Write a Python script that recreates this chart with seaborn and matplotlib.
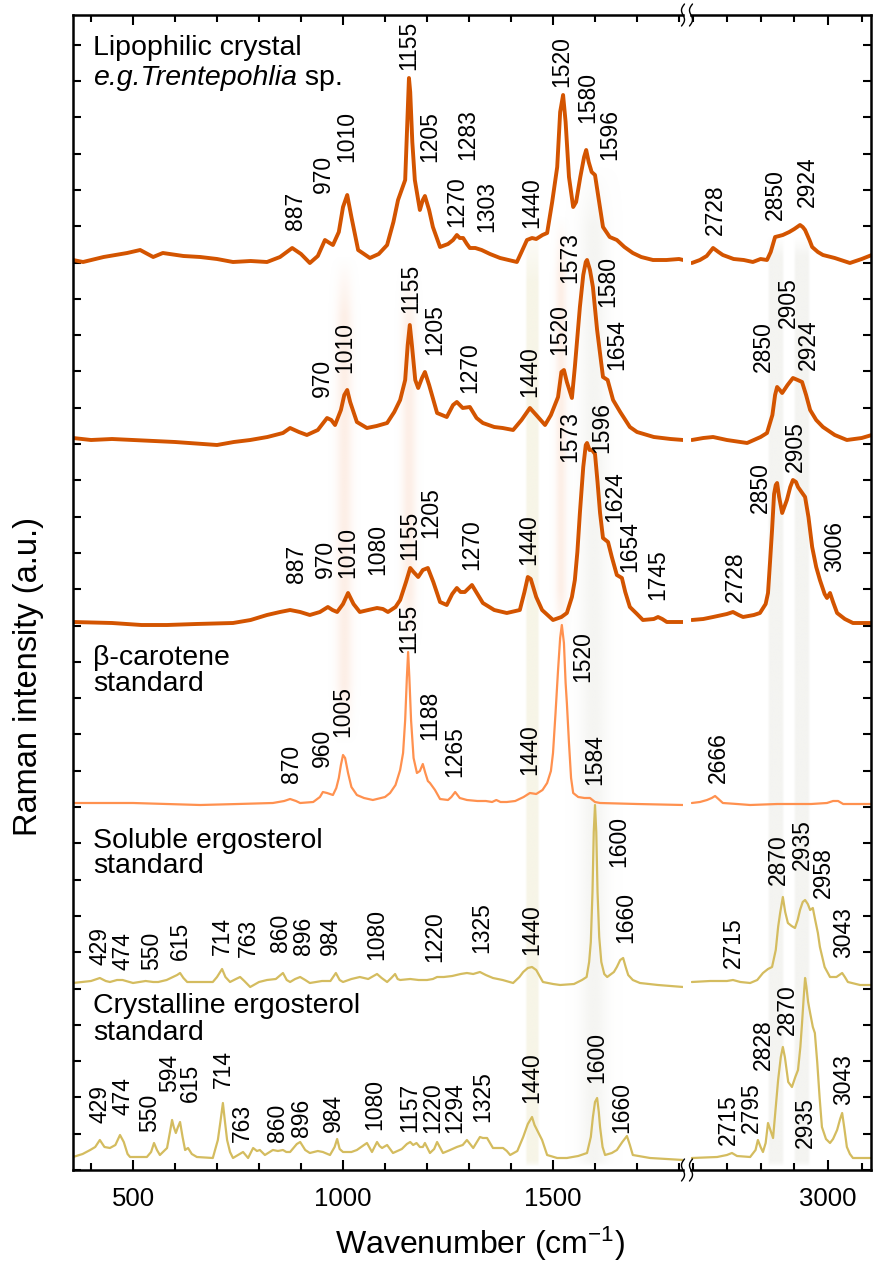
import numpy as np
import pandas as pd
import matplotlib
matplotlib.use("Agg")
import matplotlib.pyplot as plt
import matplotlib.colors as mcolors
from matplotlib.lines import Line2D
from matplotlib.ticker import FixedLocator, MultipleLocator
import seaborn as sns

# ---------------------------------------------------------------- data
# Each spectrum: (wavenumber cm-1, intensity above its own baseline, a.u.)
LIPO = [(357,2),(381,0),(430,5),(486,9),(517,12),(548,5),(571,9),(620,6),(660,5),(700,3),(738,0),
        (780,1),(819,0),(850,5),(879,14),(900,8),(921,-1),(940,6),(957,22),(968,19),(976,17),(990,30),
        (1000,55),(1010,67),(1020,45),(1036,12),(1064,4),(1085,8),(1105,17),(1120,40),(1131,62),(1148,82),
        (1154,150),(1157,184),(1160,170),(1165,120),(1171,82),(1183,52),(1190,62),(1195,66),(1205,52),
        (1214,35),(1231,15),(1250,18),(1262,22),(1271,27),(1278,24),(1286,24),(1295,18),(1302,14),(1315,14),
        (1330,12),(1350,8),(1374,4),(1414,0),(1425,10),(1438,22),(1450,24),(1460,23),(1475,27),(1486,29),
        (1498,60),(1510,95),(1517,150),(1524,167),(1530,140),(1538,85),(1548,55),(1555,60),(1565,85),
        (1574,105),(1579,112),(1585,100),(1592,90),(1600,87),(1608,65),(1619,35),(1635,25),(1652,22),
        (1670,15),(1690,9),(1710,5),(1738,2),(1770,2),(1800,3),(1810,2),
        (2596,-1),(2620,2),(2640,6),(2659,14),(2675,10),(2688,7),(2720,3),(2750,2),(2777,0),(2800,3),
        (2819,2),(2830,10),(2843,25),(2855,26),(2866,27),(2885,30),(2900,33),(2917,37),(2925,35),(2932,32),
        (2945,22),(2953,15),(2970,10),(2985,7),(3020,4),(3065,-1),(3100,3),(3130,7)]

CELL2 = [(357,2),(400,0),(450,1),(500,0),(600,-2),(700,-5),(740,-2),(779,0),(820,3),(857,7),(874,12),
         (895,8),(914,5),(940,10),(962,22),(972,20),(981,15),(995,30),(1003,45),(1010,50),(1017,38),
         (1033,18),(1057,12),(1080,14),(1105,17),(1122,28),(1136,40),(1148,60),(1154,95),(1159,115),
         (1164,95),(1172,60),(1179,52),(1188,62),(1195,68),(1205,55),(1224,27),(1247,23),(1262,35),
         (1271,38),(1285,32),(1302,33),(1318,22),(1333,17),(1360,13),(1380,12),(1405,10),(1425,20),
         (1445,32),(1460,25),(1481,15),(1495,25),(1512,43),(1520,68),(1526,70),(1533,58),(1545,42),
         (1552,73),(1564,133),(1572,165),(1578,178),(1581,180),(1588,170),(1595,153),(1605,110),
         (1619,63),(1630,60),(1643,40),(1660,28),(1683,13),(1700,8),(1740,3),(1780,1),(1810,0),
         (2596,0),(2630,2),(2659,3),(2700,0),(2760,-3),(2800,3),(2819,7),(2835,25),(2843,45),(2849,53),
         (2857,50),(2864,47),(2880,55),(2896,62),(2910,60),(2923,58),(2935,45),(2947,30),(2965,20),
         (2985,13),(3020,5),(3056,0),(3100,2),(3130,5)]

CELL3 = [(357,0),(450,-1),(520,-3),(581,-3),(650,-2),(738,-1),(780,2),(819,7),(850,10),(874,12),(898,10),
         (921,7),(945,10),(964,15),(975,12),(986,10),(1000,18),(1012,29),(1025,18),(1040,10),(1060,12),
         (1081,14),(1095,13),(1107,10),(1125,15),(1136,22),(1150,40),(1160,54),(1168,50),(1179,45),
         (1190,52),(1202,54),(1215,40),(1231,20),(1247,17),(1260,28),(1271,34),(1280,30),(1290,30),
         (1307,37),(1320,28),(1333,19),(1360,12),(1390,9),(1421,12),(1432,30),(1440,45),(1447,43),
         (1460,25),(1474,12),(1500,2),(1520,5),(1533,9),(1545,25),(1552,42),(1558,70),(1564,109),
         (1572,155),(1578,177),(1581,179),(1587,172),(1593,172),(1600,168),(1606,140),(1612,109),
         (1619,84),(1625,82),(1631,80),(1640,65),(1652,47),(1664,44),(1672,30),(1683,15),(1700,8),
         (1714,2),(1740,3),(1750,5),(1760,3),(1771,0),(1810,0),
         (2596,2),(2630,3),(2659,5),(2700,8),(2718,10),(2735,7),(2748,5),(2780,7),(2798,9),(2815,18),
         (2822,29),(2828,60),(2834,92),(2840,128),(2845,137),(2849,139),(2855,125),(2864,109),(2878,122),
         (2888,135),(2896,142),(2905,140),(2911,135),(2932,125),(2942,105),(2953,75),(2965,55),(2976,42),
         (2990,28),(2997,24),(3006,29),(3015,20),(3027,9),(3050,3),(3074,-1),(3133,-1)]

BCAROT = [(357,0),(500,0),(580,-1),(660,-2),(750,-1),(833,0),(860,2),(874,4),(888,2),(898,0),(929,1),
          (945,6),(952,11),(962,10),(976,8),(984,15),(990,25),(995,38),(1000,48),(1005,45),(1012,30),
          (1020,16),(1033,8),(1050,5),(1071,3),(1100,6),(1112,10),(1125,18),(1136,33),(1143,50),(1148,83),
          (1152,125),(1155,151),(1158,125),(1162,83),(1168,45),(1176,30),(1183,32),(1190,39),(1196,30),
          (1202,22),(1207,20),(1219,13),(1231,4),(1250,3),(1258,6),(1267,11),(1278,5),(1295,3),(1320,2),
          (1340,2),(1355,1),(1365,3),(1375,1),(1390,1),(1410,2),(1430,6),(1445,10),(1460,9),(1475,13),
          (1486,20),(1495,32),(1500,50),(1506,90),(1512,133),(1517,165),(1521,178),(1526,160),(1530,120),
          (1533,100),(1538,60),(1543,25),(1548,10),(1560,6),(1575,5),(1588,5),(1600,1),(1612,0),(1700,-1),
          (1810,-2),
          (2596,0),(2620,1),(2641,3),(2655,5),(2665,7),(2675,4),(2688,0),(2730,-1),(2769,-2),(2850,-1),
          (2950,-1),(2997,0),(3015,2),(3030,2),(3045,-1),(3065,-1),(3130,-1)]

ERGO_SOL = [(357,-1),(400,1),(421,4),(435,1),(445,0),(462,2),(475,2),(500,-1),(530,1),(548,0),(560,0),
            (580,2),(595,5),(605,7),(612,9),(620,4),(629,0),(660,0),(690,0),(700,5),(712,13),(720,5),
            (731,0),(745,3),(755,5),(765,1),(779,-5),(800,0),(819,2),(840,3),(857,9),(866,2),(874,0),
            (886,3),(898,5),(910,2),(921,-1),(950,1),(970,1),(983,9),(992,2),(1000,0),(1020,3),(1040,5),
            (1060,3),(1081,8),(1092,4),(1105,0),(1115,4),(1124,8),(1130,3),(1136,2),(1160,3),(1180,2),
            (1200,2),(1214,3),(1224,5),(1240,5),(1260,6),(1280,8),(1295,9),(1310,8),(1326,10),(1340,7),
            (1357,4),(1380,2),(1405,-1),(1420,5),(1429,10),(1440,14),(1450,15),(1460,12),(1476,0),
            (1500,-2),(1517,-3),(1550,-2),(1569,2),(1580,5),(1586,20),(1590,40),(1594,90),(1597,150),
            (1600,177),(1603,150),(1606,90),(1610,45),(1615,20),(1622,8),(1629,5),(1645,10),(1652,15),
            (1660,22),(1667,24),(1673,15),(1679,7),(1690,2),(1707,-1),(1750,-3),(1810,-5),
            (2596,0),(2650,1),(2700,1),(2718,2),(2740,0),(2769,-1),(2790,2),(2807,9),(2822,13),(2834,15),
            (2845,32),(2852,55),(2858,69),(2866,85),(2873,70),(2881,59),(2892,56),(2902,54),(2910,62),
            (2917,72),(2925,80),(2932,82),(2940,78),(2947,72),(2955,74),(2962,62),(2970,49),(2976,35),
            (2990,15),(3006,5),(3025,5),(3042,9),(3050,5),(3059,0),(3095,-3),(3130,-3)]

ERGO_CRY = [(357,0),(380,3),(398,7),(410,10),(421,17),(432,10),(445,9),(458,12),(469,22),(478,15),(487,3),
            (493,0),(533,0),(543,5),(550,14),(557,7),(564,2),(581,9),(588,25),(593,37),(597,30),(602,24),
            (607,30),(612,35),(618,20),(624,7),(631,9),(640,3),(652,0),(690,-1),(702,17),(708,35),(714,54),
            (719,35),(724,17),(731,5),(738,-1),(750,2),(762,5),(774,-1),(786,9),(795,6),(802,7),(814,2),
            (833,7),(845,6),(857,7),(865,5),(874,5),(890,13),(898,15),(910,7),(921,4),(940,6),(952,5),
            (969,2),(980,10),(986,18),(992,8),(1000,5),(1020,5),(1033,7),(1050,12),(1057,14),(1069,5),
            (1081,15),(1087,11),(1093,9),(1105,12),(1119,4),(1140,8),(1152,13),(1160,15),(1167,12),
            (1175,14),(1183,10),(1190,10),(1195,14),(1207,4),(1217,8),(1224,15),(1238,4),(1255,7),
            (1271,10),(1285,12),(1295,17),(1310,9),(1326,20),(1333,19),(1343,19),(1357,9),(1381,9),
            (1390,6),(1398,2),(1415,6),(1429,20),(1440,33),(1450,40),(1456,32),(1462,27),(1474,17),
            (1486,2),(1510,-1),(1533,-1),(1560,1),(1581,4),(1590,20),(1595,40),(1600,55),(1605,59),
            (1609,45),(1612,30),(1618,10),(1624,2),(1640,4),(1652,7),(1665,15),(1676,21),(1683,12),
            (1690,2),(1731,-1),(1810,-3),
            (2596,-1),(2671,0),(2700,2),(2715,4),(2730,1),(2769,0),(2785,7),(2792,17),(2800,10),(2807,5),
            (2815,14),(2822,34),(2830,26),(2837,19),(2845,50),(2852,77),(2860,100),(2866,110),(2872,100),
            (2882,75),(2893,70),(2903,80),(2911,87),(2918,110),(2923,134),(2928,160),(2932,179),(2936,170),
            (2941,155),(2947,144),(2955,130),(2961,124),(2968,95),(2975,60),(2982,30),(2994,18),(3006,14),
            (3015,18),(3027,27),(3036,38),(3042,44),(3048,30),(3056,10),(3065,3),(3074,-1),(3133,-1)]

# peak labels: (text, wavenumber of label, height of label start above baseline)
LIPO_LABELS = [("887",886,32),("970",953,69),("1010",1010,100),("1155",1157,192),("1205",1207,100),
               ("1270",1271,35),("1283",1298,102),("1303",1343,30),("1440",1450,34),("1520",1521,175),
               ("1580",1583,139),("1596",1636,102),("2728",2665,27),("2850",2843,42),("2924",2938,55)]
CELL2_LABELS = [("970",950,43),("1010",1005,67),("1155",1162,127),("1205",1219,85),("1270",1302,47),
                ("1440",1445,43),("1520",1517,85),("1573",1540,157),("1580",1631,133),("1654",1652,70),
                ("2850",2807,68),("2905",2881,112),("2924",2941,70)]
CELL3_LABELS = [("887",890,39),("970",957,44),("1010",1012,44),("1080",1083,47),("1155",1160,62),
                ("1205",1210,84),("1270",1307,52),("1440",1443,57),("1573",1540,160),("1596",1617,169),
                ("1624",1648,100),("1654",1683,50),("1745",1750,22),("2728",2724,20),("2850",2798,109),
                ("2905",2902,150),("3006",3021,50)]
BCAROT_LABELS = [("870",878,20),("960",950,36),("1005",1000,66),("1155",1157,150),("1188",1207,63),
                 ("1265",1267,26),("1440",1445,28),("1520",1571,121),("1584",1600,18),("2666",2674,20)]
ERGO_SOL_LABELS = [("429",421,17),("474",476,12),("550",545,12),("615",612,22),("714",712,27),
                   ("763",774,25),("860",851,30),("896",905,27),("984",969,27),("1080",1081,22),
                   ("1220",1219,20),("1325",1331,29),("1440",1450,27),("1600",1657,115),("1660",1674,39),
                   ("2715",2718,14),("2870",2852,97),("2935",2923,112),("2958",2985,84),("3043",3045,24)]
ERGO_CRY_LABELS = [("429",421,34),("474",476,42),("550",540,25),("594",588,65),("615",636,55),
                   ("714",714,69),("763",760,15),("860",845,15),("896",902,20),("984",976,25),
                   ("1080",1076,27),("1157",1160,25),("1220",1214,24),("1294",1267,24),("1325",1333,35),
                   ("1440",1450,54),("1600",1605,74),("1660",1664,24),("2715",2703,12),("2795",2774,24),
                   ("2828",2807,87),("2870",2878,122),("2935",2932,9),("3043",3045,52)]

X_TICKS_LOW = [500, 1000, 1500]
X_TICKS_HIGH = [3000]

# ---------------------------------------------------------------- style
sns.set_theme(style="ticks")
plt.rcParams['font.family'] = ['Liberation Sans', 'DejaVu Sans']
plt.rcParams['mathtext.fontset'] = 'custom'
plt.rcParams['mathtext.rm'] = 'Liberation Sans'
plt.rcParams['mathtext.it'] = 'Liberation Sans:italic'
plt.rcParams['mathtext.default'] = 'regular'
plt.rcParams['text.color'] = 'black'
plt.rcParams['axes.labelcolor'] = 'black'
plt.rcParams['xtick.color'] = 'black'
plt.rcParams['ytick.color'] = 'black'

DARK = '#D35400'
LIGHT = '#FF914F'
KHAKI = '#D4BC5F'

spectra = [
    ("lipo", LIPO, LIPO_LABELS, 908, DARK, 2.8),
    ("cell2", CELL2, CELL2_LABELS, 730, DARK, 2.8),
    ("cell3", CELL3, CELL3_LABELS, 548, DARK, 2.8),
    ("bcarot", BCAROT, BCAROT_LABELS, 367, LIGHT, 1.6),
    ("ergo_sol", ERGO_SOL, ERGO_SOL_LABELS, 188, KHAKI, 1.6),
    ("ergo_cry", ERGO_CRY, ERGO_CRY_LABELS, 13, KHAKI, 1.6),
]

W, H = 873, 1264
fig = plt.figure(figsize=(W / 100, H / 100), dpi=100)
fig.patch.set_facecolor('white')
YTOP = 1155
ax1 = fig.add_axes([73 / W, 94 / H, 610 / W, YTOP / H])
ax2 = fig.add_axes([691 / W, 94 / H, 180 / W, YTOP / H])
XL1 = (357.1, 1809.5)
XL2 = (2593.5, 3127.6)


def add_band(ax, c, w, py_top, py_bot, color, amax, shape, fade_top=60, fade_bot=60):
    xs = np.linspace(c - 2 * w, c + 2 * w, 200)
    y0, y1 = 1170 - py_bot, 1170 - py_top
    ys = np.linspace(y0, y1, 300)
    if shape == 'gauss':
        pxp = np.exp(-0.5 * ((xs - c) / (0.6 * w)) ** 2)
    else:
        pxp = np.clip((w - np.abs(xs - c)) / (0.3 * w), 0, 1)
    pv = np.clip((ys - y0) / fade_bot, 0, 1) * np.clip((y1 - ys) / fade_top, 0, 1)
    img = np.zeros((len(ys), len(xs), 4))
    img[..., :3] = mcolors.to_rgb(color)
    img[..., 3] = amax * pv[:, None] * pxp[None, :]
    ax.imshow(img, extent=[xs[0], xs[-1], y0, y1], origin='lower', aspect='auto',
              zorder=0, interpolation='bilinear')


PINK = '#F9CDB4'
YEL = '#EFEBD0'
GRAY = '#E9E9E3'
add_band(ax1, 1003, 22, 255, 745, PINK, 0.32, 'gauss')
add_band(ax1, 1156, 20, 265, 655, PINK, 0.32, 'gauss')
add_band(ax1, 1451, 17, 220, 1168, YEL, 0.5, 'flat', fade_bot=5)
add_band(ax1, 1519, 15, 215, 650, PINK, 0.32, 'gauss')
add_band(ax1, 1597, 38, 165, 1168, GRAY, 0.45, 'gauss', fade_bot=5)
add_band(ax2, 2844, 25, 235, 1168, GRAY, 0.5, 'flat', fade_top=20, fade_bot=5)
add_band(ax2, 2921, 25, 235, 1168, GRAY, 0.5, 'flat', fade_top=20, fade_bot=5)

for name, data, labels, off, col, lw in spectra:
    df = pd.DataFrame(data, columns=['wn', 'inten'])
    df['y'] = df['inten'] + off
    low = df[df['wn'] < 2000]
    high = df[df['wn'] > 2000]
    sns.lineplot(data=low, x='wn', y='y', ax=ax1, color=col, linewidth=lw,
                 estimator=None, sort=False, legend=False, zorder=2)
    sns.lineplot(data=high, x='wn', y='y', ax=ax2, color=col, linewidth=lw,
                 estimator=None, sort=False, legend=False, zorder=2)
    for txt, wn, h in labels:
        ax = ax1 if wn < 2000 else ax2
        ax.text(wn, off + h, txt, rotation=90, ha='center', va='bottom',
                fontsize=16.5, color='black', zorder=3)

# sample names
TX = 405
ax1.text(TX, 1170 - 55, "Lipophilic crystal", fontsize=20.5, va='baseline', ha='left')
t_it = ax1.text(TX, 1170 - 85, "e.g.Trentepohlia", fontsize=20.5, va='baseline', ha='left',
                style='italic')
ax1.annotate(" sp.", xy=(1, 0), xycoords=t_it, va='bottom', ha='left', fontsize=20.5)
ax1.text(TX, 1170 - 665, "β-carotene", fontsize=20.5, va='baseline', ha='left')
ax1.text(TX, 1170 - 691, "standard", fontsize=20.5, va='baseline', ha='left')
ax1.text(TX, 1170 - 848, "Soluble ergosterol", fontsize=20.5, va='baseline', ha='left')
ax1.text(TX, 1170 - 873, "standard", fontsize=20.5, va='baseline', ha='left')
ax1.text(TX, 1170 - 1013, "Crystalline ergosterol", fontsize=20.5, va='baseline', ha='left')
ax1.text(TX, 1170 - 1040, "standard", fontsize=20.5, va='baseline', ha='left')

# axes cosmetics
yt = np.arange(0, YTOP, 36.3)
for ax, xl, maj in [(ax1, XL1, X_TICKS_LOW), (ax2, XL2, X_TICKS_HIGH)]:
    ax.set_xlim(*xl)
    ax.set_ylim(0, YTOP)
    ax.set_facecolor('white')
    ax.xaxis.set_major_locator(FixedLocator(maj))
    ax.xaxis.set_minor_locator(MultipleLocator(100))
    ax.set_yticks(yt)
    ax.set_xlabel('')
    ax.set_ylabel('')
    for s in ax.spines.values():
        s.set_linewidth(1.8)
        s.set_color('black')
    ax.tick_params(axis='x', which='both', direction='in', top=True, bottom=True,
                   width=1.5, colors='black')
    ax.tick_params(axis='x', which='major', length=7, pad=12, labelsize=18.5)
    ax.tick_params(axis='x', which='minor', length=5)
    ax.grid(False)

ax1.spines['right'].set_visible(False)
ax2.spines['left'].set_visible(False)
ax1.tick_params(axis='y', direction='in', left=True, right=False, labelleft=False,
                length=6, width=1.5, colors='black')
ax2.tick_params(axis='y', direction='in', left=False, right=True, labelleft=False,
                labelright=False, length=6, width=1.5, colors='black')

fig.text(29 / W, 1 - 676 / H, "Raman intensity (a.u.)", rotation=90, ha='center', va='center',
         fontsize=23.5, color='black')
fig.text(480 / W, 1 - 1254 / H, r"Wavenumber (cm$^{−1}$)", ha='center', va='baseline',
         fontsize=23, color='black')

# axis-break marks
s = np.linspace(-1, 1, 40)
for yc in (15, 1170):
    for xc in (683, 691):
        xs_ = xc + 2.2 * np.sin(np.pi * s) - 1.5 * s
        ys_ = yc + 11 * s
        fig.add_artist(Line2D(xs_ / W, 1 - ys_ / H, color='black', lw=1.0))

fig.savefig('out.png', dpi=100, facecolor='white')
